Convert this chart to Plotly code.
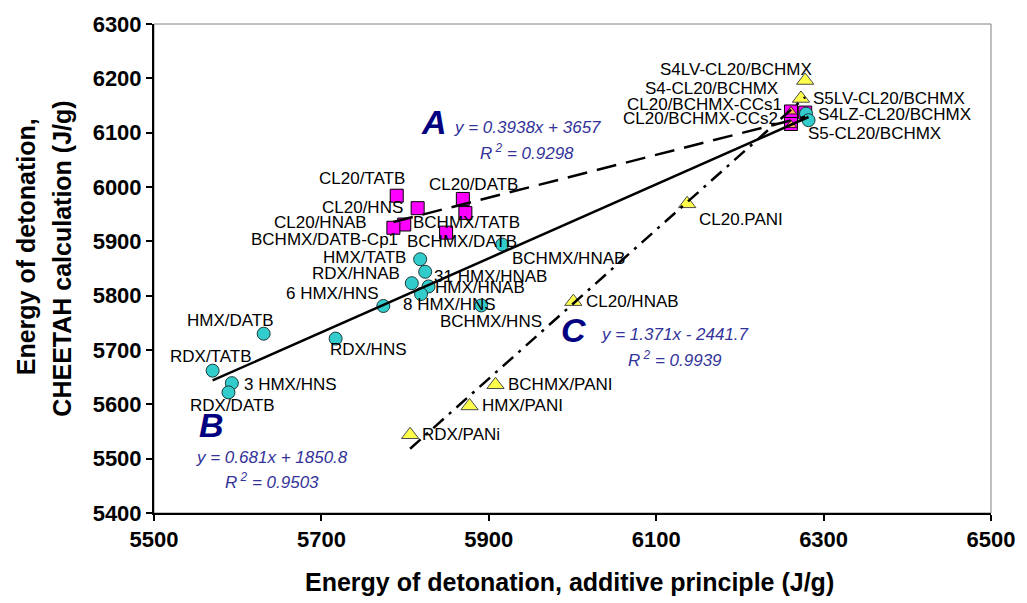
import plotly.graph_objects as go

# ---------------- data ----------------
# Series A : magenta squares
names_a = ["CL20/TATB", "CL20/HNS", "CL20/DATB", "BCHMX/TATB", "CL20/HNAB",
           "BCHMX/DATB-Cp1", "BCHMX/DATB", "CL20/BCHMX-CCs1", "CL20/BCHMX-CCs2", ""]
x_a = [5790, 5815, 5869, 5872, 5799, 5786, 5849, 6261, 6261, 6278]
y_a = [5984, 5961, 5978, 5952, 5931, 5925, 5916, 6139, 6116, 6137]

# Series B : cyan circles
names_b = ["RDX/TATB", "HMX/DATB", "3 HMX/HNS", "RDX/DATB", "RDX/HNS", "6 HMX/HNS",
           "RDX/HNAB", "HMX/TATB", "31 HMX/HNAB", "HMX/HNAB", "8 HMX/HNS",
           "BCHMX/HNS", "BCHMX/HNAB", "S4LZ-CL20/BCHMX", "S5-CL20/BCHMX"]
x_b = [5570, 5631, 5593, 5589, 5717, 5774, 5808, 5818, 5824, 5828, 5819,
       5891, 5916, 6279, 6282]
y_b = [5662, 5730, 5639, 5622, 5721, 5781, 5823, 5867, 5844, 5817, 5803,
       5782, 5894, 6135, 6123]

# Series C : yellow triangles
names_c = ["RDX/PANi", "HMX/PANI", "BCHMX/PANI", "CL20/HNAB", "CL20.PANI",
           "S4LV-CL20/BCHMX", "S5LV-CL20/BCHMX", "S4-CL20/BCHMX", ""]
x_c = [5806, 5877, 5908, 6001, 6137, 6278, 6273, 6261, 6261]
y_c = [5544, 5597, 5636, 5789, 5969, 6196, 6163, 6139, 6114]

# linear trend lines (slope, intercept, R^2)
fit_a = (0.3938, 3657, 0.9298)
fit_b = (0.681, 1850.8, 0.9503)
fit_c = (1.371, -2441.7, 0.9939)

x_ticks = [5500, 5700, 5900, 6100, 6300, 6500]
y_ticks = [5400, 5500, 5600, 5700, 5800, 5900, 6000, 6100, 6200, 6300]

# ---------------- styling / label placement (anchor, dx px, dy px down) ----------------
tri_sizes = [15, 15, 15, 15, 15, 15, 15, 10, 10]

pos_a = [("right", 10, -17), ("right", -13, -1), ("center", 11, -14), ("center", 1, 9),
         ("right", -35, -2), ("right", 7, 12), ("center", 16, 9),
         ("right", -7, -7), ("right", -11, -5), None]
pos_b = [("center", -2, -14), ("center", -33, -13), ("left", 10, 1), ("center", 4, 13),
         ("center", 33, 11), ("right", -2, -12), ("right", -10, -10), ("right", -12, -2),
         ("left", 7, 5), ("left", 4, 1), ("left", -20, 10), ("center", 10, 16),
         ("left", 8, 14), ("left", 10, 1), ("left", -3, 13)]
pos_c = [("left", 10, 0), ("left", 10, 0), ("left", 10, 0), ("left", 11, 0),
         ("left", 10, 16), ("right", 9, -11), ("left", 10, 0), ("right", -11, -23), None]

FONT = "Arial, Liberation Sans, sans-serif"
EQ_COLOR = "#333399"
LETTER_COLOR = "#000080"

fig = go.Figure()

fig.add_trace(go.Scatter(
    x=x_a, y=y_a, mode="markers", name="A",
    marker=dict(symbol="square", size=13, color="#FF00FF",
                line=dict(color="black", width=1))))
fig.add_trace(go.Scatter(
    x=x_c, y=y_c, mode="markers", name="C",
    marker=dict(symbol="triangle-up", size=tri_sizes, color="#FFFF00",
                line=dict(color="black", width=1))))
fig.add_trace(go.Scatter(
    x=x_b, y=y_b, mode="markers", name="B",
    marker=dict(symbol="circle", size=13, color="#33CCCC",
                line=dict(color="#1a3a3a", width=1))))


def trend(xs, fit, dash):
    lo, hi = min(xs), max(xs)
    m, c, _ = fit
    fig.add_trace(go.Scatter(
        x=[lo, hi], y=[m * lo + c, m * hi + c], mode="lines",
        line=dict(color="black", width=2.5, dash=dash), hoverinfo="skip"))


trend(x_a, fit_a, "20px,10px")
trend(x_b, fit_b, "solid")
trend(x_c, fit_c, "14px,7px,3px,7px")

annotations = []


def add_labels(names, xs, ys, pos):
    for n, xv, yv, p in zip(names, xs, ys, pos):
        if not n or p is None:
            continue
        anc, dx, dy = p
        annotations.append(dict(
            x=xv, y=yv, xref="x", yref="y", text=n, showarrow=False,
            xanchor=anc, yanchor="middle", xshift=dx, yshift=-dy,
            font=dict(family=FONT, size=17, color="black")))


add_labels(names_a, x_a, y_a, pos_a)
add_labels(names_b, x_b, y_b, pos_b)
add_labels(names_c, x_c, y_c, pos_c)


def fmt_eq(fit):
    m, c, r2 = fit
    sign = "+" if c >= 0 else "-"
    return f"y = {m:g}x {sign} {abs(c):g}", f"R<sup> 2</sup> = {r2:.4f}"


eq_places = [  # letter, letter pos, eq line1 pos, eq line2 pos
    ("A", fit_a, (5834, 6120), (5946, 6110), (5946, 6065)),
    ("B", fit_b, (5569, 5562), (5641, 5502), (5641, 5458)),
    ("C", fit_c, (6001, 5736), (6122, 5728), (6122, 5684)),
]
for letter, fit, lp, e1, e2 in eq_places:
    l1, l2 = fmt_eq(fit)
    annotations.append(dict(x=lp[0], y=lp[1], xref="x", yref="y", text=letter,
                            showarrow=False, xanchor="center", yanchor="middle",
                            font=dict(family=FONT, size=34, color=LETTER_COLOR,
                                      weight="bold", style="italic")))
    annotations.append(dict(x=e1[0], y=e1[1], xref="x", yref="y", text=l1,
                            showarrow=False, xanchor="center", yanchor="middle",
                            font=dict(family=FONT, size=17, color=EQ_COLOR, style="italic")))
    annotations.append(dict(x=e2[0], y=e2[1], xref="x", yref="y", text=l2,
                            showarrow=False, xanchor="center", yanchor="middle",
                            font=dict(family=FONT, size=17, color=EQ_COLOR, style="italic")))

# axis titles
annotations.append(dict(x=0.497, y=-0.142, xref="paper", yref="paper",
                        text="Energy of detonation, additive principle (J/g)",
                        showarrow=False, xanchor="center", yanchor="middle",
                        font=dict(family=FONT, size=25, color="black", weight="bold")))
annotations.append(dict(x=-0.152, y=0.545, xref="paper", yref="paper",
                        text="Energy of detonation,", textangle=-90,
                        showarrow=False, xanchor="center", yanchor="middle",
                        font=dict(family=FONT, size=25, color="black", weight="bold")))
annotations.append(dict(x=-0.11, y=0.52, xref="paper", yref="paper",
                        text="CHEETAH calculation (J/g)", textangle=-90,
                        showarrow=False, xanchor="center", yanchor="middle",
                        font=dict(family=FONT, size=25, color="black", weight="bold")))

axis_common = dict(showgrid=False, zeroline=False, showline=True, linecolor="black",
                   linewidth=2, ticks="outside", ticklen=6, tickwidth=2, tickcolor="black",
                   tickfont=dict(family=FONT, size=22, color="black", weight="bold"))

fig.update_layout(
    width=1027, height=603,
    margin=dict(l=154, r=30, t=19, b=90),
    paper_bgcolor="white", plot_bgcolor="white",
    showlegend=False,
    xaxis=dict(range=[5500, 6500], tickvals=x_ticks, **axis_common),
    yaxis=dict(range=[5400, 6300], tickvals=y_ticks, **axis_common),
    annotations=annotations,
    shapes=[dict(type="rect", xref="paper", yref="paper", x0=0, x1=1, y0=0, y1=1,
                 line=dict(color="#808080", width=1), layer="below")],
)

fig.write_html("out.html")
